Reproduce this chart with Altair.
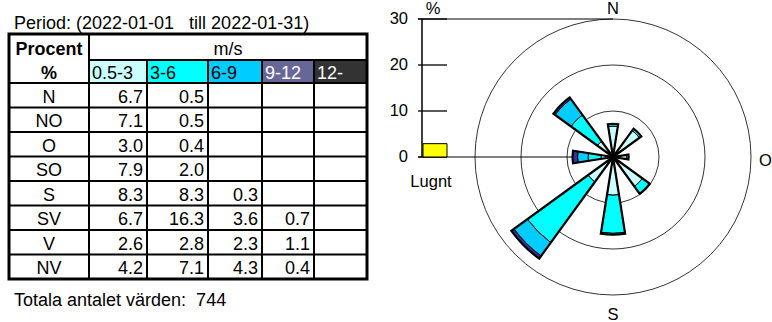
import math

import altair as alt
import pandas as pd

# ---------------------------------------------------------------------------
# Data: wind frequency (%) per direction and wind-speed class, January 2022
# ---------------------------------------------------------------------------
directions = ["N", "NO", "O", "SO", "S", "SV", "V", "NV"]
speed_classes = ["0.5-3", "3-6", "6-9", "9-12", "12-"]

pct_0_5_3 = [6.7, 7.1, 3.0, 7.9, 8.3, 6.7, 2.6, 4.2]
pct_3_6 = [0.5, 0.5, 0.4, 2.0, 8.3, 16.3, 2.8, 7.1]
pct_6_9 = [None, None, None, None, 0.3, 3.6, 2.3, 4.3]
pct_9_12 = [None, None, None, None, None, 0.7, 1.1, 0.4]
pct_12_up = [None, None, None, None, None, None, None, None]

calm_pct = 2.9          # "Lugnt"
total_values = 744
period_from, period_to = "2022-01-01", "2022-01-31"
radial_ticks = [0, 10, 20, 30]
compass_labels = ["N", "O", "S"]

# ---------------------------------------------------------------------------
# Styling and layout
# ---------------------------------------------------------------------------
FONT = "Liberation Sans"
FS_TABLE = 18
FS_ROSE = 16.5
W, H = 772, 322

header_fill = ["#CCFFFF", "#00FFFF", "#00CCFF", "#666699", "#333333"]
header_ink = ["black", "black", "black", "white", "white"]
petal_fill = ["#CCFFFF", "#00FFFF", "#00CCFF", "#333399", "#333333"]

# table grid (pixel edges)
col_edges = [9, 89, 147, 208, 262, 314, 367]
row_edges = [34, 60, 83] + [83 + 24.5 * (i + 1) for i in range(len(directions))]

# wind rose geometry
CX, CY = 613, 157
R_MAX = 138
HALF_WIDTH = math.radians(9)
AXIS_X = 422

r_scale = alt.Scale(type="linear", domain=[0, max(radial_ticks)], range=[0, R_MAX])
y_scale = alt.Scale(type="linear", domain=[0, max(radial_ticks)], range=[CY, CY - R_MAX])

series = [pct_0_5_3, pct_3_6, pct_6_9, pct_9_12, pct_12_up]


def fmt(v):
    return "" if v is None else f"{v:.1f}"


# ---------------------------------------------------------------------------
# Table
# ---------------------------------------------------------------------------
px = dict(scale=None)

head_cells = pd.DataFrame({
    "x": col_edges[1:-1], "x2": col_edges[2:],
    "y": [row_edges[1]] * 5, "y2": [row_edges[2]] * 5,
    "fill": header_fill,
})
cells = alt.Chart(head_cells).mark_rect().encode(
    x=alt.X("x:Q", **px), x2="x2:Q", y=alt.Y("y:Q", **px), y2="y2:Q",
    fill=alt.Fill("fill:N", scale=None),
)

grid_rows = []
# line under "m/s"
grid_rows.append(dict(x=col_edges[1], x2=col_edges[-1], y=row_edges[1], y2=row_edges[1]))
for yy in row_edges[2:-1]:
    grid_rows.append(dict(x=col_edges[0], x2=col_edges[-1], y=yy, y2=yy))
grid_rows.append(dict(x=col_edges[1], x2=col_edges[1], y=row_edges[0], y2=row_edges[-1]))
for xx in col_edges[2:-1]:
    grid_rows.append(dict(x=xx, x2=xx, y=row_edges[1], y2=row_edges[-1]))
grid = alt.Chart(pd.DataFrame(grid_rows)).mark_rule(color="black", strokeWidth=2).encode(
    x=alt.X("x:Q", **px), x2="x2:Q", y=alt.Y("y:Q", **px), y2="y2:Q",
)

frame = alt.Chart(pd.DataFrame({
    "x": [col_edges[0]], "x2": [col_edges[-1]], "y": [row_edges[0]], "y2": [row_edges[-1]],
})).mark_rect(fillOpacity=0, stroke="black", strokeWidth=3).encode(
    x=alt.X("x:Q", **px), x2="x2:Q", y=alt.Y("y:Q", **px), y2="y2:Q",
)

left_txt, center_txt, right_txt, bold_txt = [], [], [], []
first_mid = (col_edges[0] + col_edges[1]) / 2
bold_txt.append(dict(x=first_mid, y=row_edges[1] - 5, text="Procent", color="black"))
bold_txt.append(dict(x=first_mid, y=row_edges[2] - 4, text="%", color="black"))
center_txt.append(dict(x=(col_edges[1] + col_edges[-1]) / 2, y=row_edges[1] - 5, text="m/s", color="black"))
for j, cls in enumerate(speed_classes):
    left_txt.append(dict(x=col_edges[j + 1] + 3, y=row_edges[2] - 4, text=cls, color=header_ink[j]))
for i, d in enumerate(directions):
    base = row_edges[i + 3] - 5
    center_txt.append(dict(x=first_mid, y=base, text=d, color="black"))
    for j, vals in enumerate(series):
        s = fmt(vals[i])
        if s:
            right_txt.append(dict(x=col_edges[j + 2] - 4, y=base, text=s, color="black"))
left_txt.append(dict(x=14, y=29, text=f"Period: ({period_from}\u00a0\u00a0 till {period_to})", color="black"))
left_txt.append(dict(x=14, y=306, text=f"Totala antalet värden:\u00a0 {total_values}", color="black"))


def text_layer(rows, align, weight="normal", size=FS_TABLE):
    return alt.Chart(pd.DataFrame(rows)).mark_text(
        align=align, baseline="alphabetic", font=FONT, fontSize=size, fontWeight=weight,
    ).encode(
        x=alt.X("x:Q", **px), y=alt.Y("y:Q", **px), text="text:N",
        color=alt.Color("color:N", scale=None),
    )


table_layers = [
    cells, grid, frame,
    text_layer(left_txt, "left"),
    text_layer(center_txt, "center"),
    text_layer(right_txt, "right"),
    text_layer(bold_txt, "center", weight="bold"),
]

# ---------------------------------------------------------------------------
# Wind rose
# ---------------------------------------------------------------------------
petal_rows, outline_rows = [], []
for i, d in enumerate(directions):
    ang = i * 2 * math.pi / len(directions)
    cum = 0.0
    for j, vals in enumerate(series):
        v = vals[i]
        if v is None:
            continue
        petal_rows.append(dict(dir=d, cls=speed_classes[j], inner=cum, outer=cum + v,
                               t0=ang - HALF_WIDTH, t1=ang + HALF_WIDTH, fill=petal_fill[j]))
        cum += v
    outline_rows.append(dict(dir=d, inner=0.0, outer=cum, t0=ang - HALF_WIDTH, t1=ang + HALF_WIDTH))

petals = pd.DataFrame(petal_rows)
outlines = pd.DataFrame(outline_rows)
rings = pd.DataFrame({"outer": radial_ticks[1:], "inner": [0] * 3,
                      "t0": [0.0] * 3, "t1": [2 * math.pi] * 3})


def arc_enc(fill=None):
    enc = dict(
        theta=alt.Theta("t0:Q", scale=None, stack=False), theta2="t1:Q",
        radius=alt.Radius("outer:Q", scale=r_scale, stack=False), radius2="inner:Q",
        x=alt.value(CX), y=alt.value(CY),
    )
    if fill:
        enc["fill"] = alt.Fill(fill, scale=None)
    return enc


ring_layer = alt.Chart(rings).mark_arc(fillOpacity=0, stroke="black", strokeWidth=0.8).encode(**arc_enc())
petal_layer = alt.Chart(petals).mark_arc(stroke="black", strokeWidth=1).encode(**arc_enc("fill:N"))
outline_layer = alt.Chart(outlines).mark_arc(fillOpacity=0, stroke="black", strokeWidth=2.2).encode(**arc_enc())

# left percentage axis
ticks = pd.DataFrame({"v": radial_ticks, "label": [str(t) for t in radial_ticks]})
axis_line = alt.Chart(pd.DataFrame({"lo": [radial_ticks[0]], "hi": [radial_ticks[-1]]})).mark_rule(
    color="black", strokeWidth=1.5).encode(
    x=alt.value(AXIS_X), y=alt.Y("lo:Q", scale=y_scale, axis=None), y2="hi:Q")
tick_marks = alt.Chart(ticks).mark_rule(color="black", strokeWidth=1.3).encode(
    x=alt.value(AXIS_X - 4), x2=alt.value(AXIS_X + 25), y=alt.Y("v:Q", scale=y_scale, axis=None))
guide_lines = alt.Chart(ticks[ticks.v.isin([radial_ticks[0], radial_ticks[-1]])]).mark_rule(
    color="black", strokeWidth=1).encode(
    x=alt.value(AXIS_X - 4), x2=alt.value(CX), y=alt.Y("v:Q", scale=y_scale, axis=None))
tick_labels = alt.Chart(ticks).mark_text(align="right", baseline="middle", font=FONT, fontSize=FS_ROSE).encode(
    x=alt.value(AXIS_X - 14), y=alt.Y("v:Q", scale=y_scale, axis=None), text="label:N")

calm_bar = alt.Chart(pd.DataFrame({"calm": [calm_pct], "zero": [0]})).mark_rect(
    fill="#FFFF00", stroke="black", strokeWidth=1).encode(
    x=alt.value(AXIS_X + 1), x2=alt.value(AXIS_X + 25),
    y=alt.Y("calm:Q", scale=y_scale, axis=None), y2="zero:Q")

rose_text = pd.DataFrame([
    dict(x=AXIS_X + 9, y=187, text="Lugnt"),
    dict(x=AXIS_X + 11, y=14, text="%"),
    dict(x=CX, y=CY - R_MAX - 5, text=compass_labels[0]),
    dict(x=CX, y=CY + R_MAX + 25, text=compass_labels[2]),
])
rose_labels = alt.Chart(rose_text).mark_text(align="center", baseline="alphabetic", font=FONT,
                                             fontSize=FS_ROSE).encode(
    x=alt.X("x:Q", **px), y=alt.Y("y:Q", **px), text="text:N")
east_label = alt.Chart(pd.DataFrame({"x": [CX + R_MAX + 8], "y": [CY + 9], "text": [compass_labels[1]]})).mark_text(
    align="left", baseline="alphabetic", font=FONT, fontSize=FS_ROSE).encode(
    x=alt.X("x:Q", **px), y=alt.Y("y:Q", **px), text="text:N")

rose_layers = [
    ring_layer, guide_lines, axis_line, tick_marks, calm_bar,
    petal_layer, outline_layer, tick_labels, rose_labels, east_label,
]

chart = alt.layer(*table_layers, *rose_layers).properties(
    width=W, height=H, padding=0, autosize=alt.AutoSizeParams(type="none"),
    background="white",
).configure_view(strokeWidth=0)

chart.save("out.html", embed_options={"renderer": "svg", "actions": False})
